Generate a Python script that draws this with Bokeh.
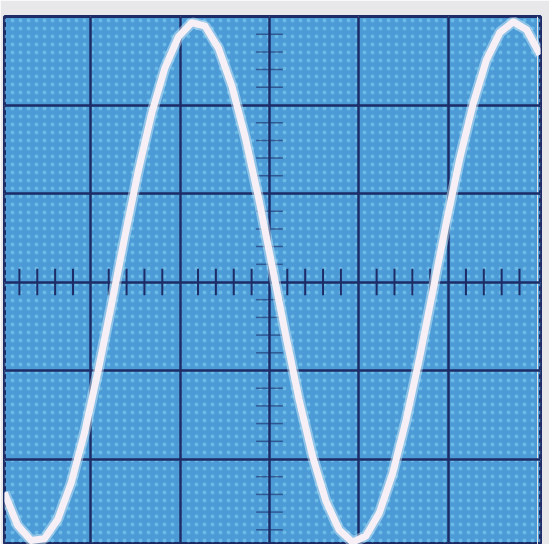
from bokeh.plotting import figure
from bokeh.models import FixedTicker, Range1d, Grid, BoxAnnotation
from bokeh.embed import file_html
from bokeh.resources import INLINE

# Trace, in divisions (x: time div, y: volt div)
trace_x = [-2.97, -2.82, -2.67, -2.52, -2.37, -2.22, -2.07, -1.92, -1.77, -1.62,
           -1.47, -1.32, -1.17, -1.02, -0.87, -0.72, -0.57, -0.42, -0.27, -0.12,
           0.03, 0.18, 0.33, 0.48, 0.63, 0.78, 0.93, 1.08, 1.23, 1.38,
           1.53, 1.68, 1.83, 1.98, 2.13, 2.28, 2.43, 2.58, 2.73, 2.88, 3.03]
trace_y = [-2.38, -2.75, -2.92, -2.90, -2.68, -2.27, -1.70, -1.01, -0.26, 0.51,
           1.25, 1.90, 2.42, 2.77, 2.93, 2.89, 2.64, 2.21, 1.63, 0.94,
           0.18, -0.59, -1.32, -1.96, -2.47, -2.80, -2.94, -2.87, -2.61, -2.16,
           -1.56, -0.86, -0.10, 0.67, 1.39, 2.01, 2.51, 2.82, 2.94, 2.85, 2.57]

# Graticule divisions
major_divs = [-2, -1, 0, 1, 2]
minor_step = 0.2
minor_divs = [round(i * minor_step, 2) for i in range(-15, 16) if i % 5 != 0]
tick_half = 0.15

SCREEN = "#4c9bd6"
GRID = "#1d2c66"
TRACE = "#f6eff6"

p = figure(width=549, height=544,
           x_range=Range1d(-2.967, 3.035), y_range=Range1d(-2.966, 3.0),
           output_backend="svg", toolbar_location=None,
           x_axis_location=None, y_axis_location=None,
           min_border_left=4, min_border_top=16, min_border_right=9, min_border_bottom=0)
p.background_fill_color = SCREEN
p.border_fill_color = "#e8e8ea"
p.outline_line_color = GRID
p.outline_line_width = 3

# screen texture
p.add_layout(BoxAnnotation(fill_alpha=0, line_alpha=0, level="underlay",
                           hatch_pattern="dot", hatch_color="#80cdee",
                           hatch_alpha=0.6, hatch_scale=8, hatch_weight=3))

p.add_layout(Grid(dimension=0, ticker=FixedTicker(ticks=major_divs),
                  grid_line_color=GRID, grid_line_width=2.5))
p.add_layout(Grid(dimension=1, ticker=FixedTicker(ticks=major_divs),
                  grid_line_color=GRID, grid_line_width=2.5))

# minor ticks on the centre axes
p.segment(x0=minor_divs, y0=[-tick_half] * len(minor_divs),
          x1=minor_divs, y1=[tick_half] * len(minor_divs),
          line_color=GRID, line_width=2)
p.segment(x0=[-tick_half] * len(minor_divs), y0=minor_divs,
          x1=[tick_half] * len(minor_divs), y1=minor_divs,
          line_color=GRID, line_width=1.5, line_alpha=0.6)

# trace with slight glow
p.line(trace_x, trace_y, line_color="#cfe9f5", line_width=11, line_alpha=0.5)
p.line(trace_x, trace_y, line_color=TRACE, line_width=7, line_join="round")

open("out.html", "w").write(file_html(p, INLINE))
